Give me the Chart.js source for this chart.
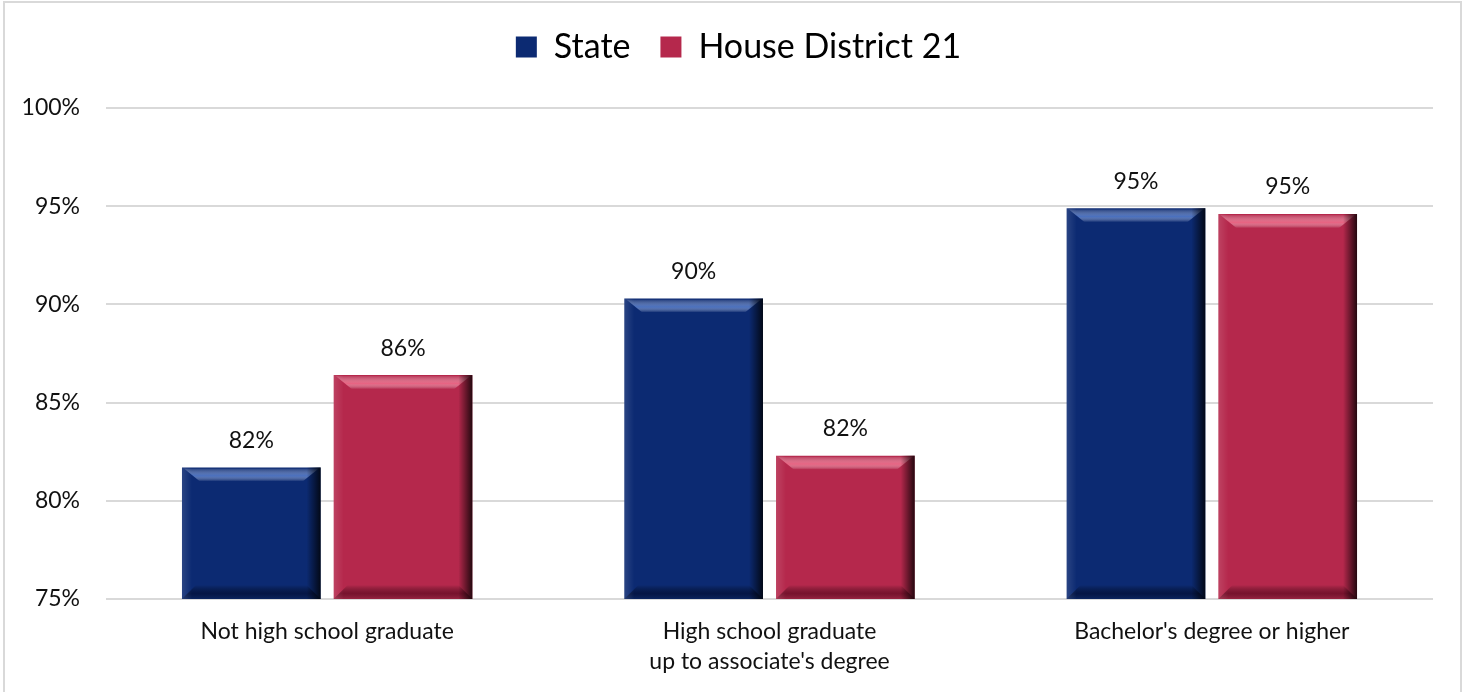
<!DOCTYPE html>
<html>
<head>
<meta charset="utf-8">
<script src="https://cdn.jsdelivr.net/npm/chart.js@4"></script>
<style>
  html, body { margin: 0; padding: 0; background: #fff; }
  canvas { display: block; }
</style>
</head>
<body>
<canvas id="eduChart" width="1469" height="692"></canvas>
<script>
// chart data
const categories = ['Not high school graduate', ['High school graduate', "up to associate's degree"], "Bachelor's degree or higher"];
const seriesNames = ['State', 'House District 21'];
const stateValues = [81.7, 90.3, 94.9];
const districtValues = [86.4, 82.3, 94.6];
const yTicks = [75, 80, 85, 90, 95, 100];

const FONT = 'Lato, "Noto Sans", sans-serif';
const navy = '#0c2a72';
const crimson = '#b5284c';

// light gray frame around the picture
const framePlugin = {
    id: 'frame',
    beforeDraw: function(chart) {
        const ctx = chart.ctx;
        ctx.save();
        ctx.fillStyle = '#fff';
        ctx.fillRect(0, 0, chart.width, chart.height);
        ctx.strokeStyle = '#d9d9d9';
        ctx.lineWidth = 2;
        ctx.beginPath();
        ctx.moveTo(4, chart.height);
        ctx.lineTo(4, 2);
        ctx.lineTo(1461, 2);
        ctx.lineTo(1461, chart.height);
        ctx.stroke();
        ctx.restore();
    }
};

// legend block as tall as the gap above the plot, centred on the whole picture
const legendPlugin = {
    id: 'legendBox',
    beforeLayout: function(chart) {
        const legend = chart.legend;
        if (legend && !legend._patched) {
            const origFit = legend.fit;
            legend.fit = function() {
                origFit.call(this);
                this.height = 108;
            };
            legend._patched = true;
        }
    },
    afterLayout: function(chart) {
        if (chart.legend) {
            chart.legend.left = 8;
            chart.legend.right = chart.width;
        }
    }
};

// bevelled look of the bars
const bevelPlugin = {
    id: 'bevel',
    afterDatasetsDraw: function(chart) {
        const ctx = chart.ctx;
        const area = chart.chartArea;
        ctx.save();
        ctx.beginPath();
        ctx.rect(area.left, area.top - 2, area.right - area.left, area.bottom - area.top + 2);
        ctx.clip();
        chart.data.datasets.forEach(function(ds, di) {
            const meta = chart.getDatasetMeta(di);
            const light = di === 0 ? 'rgba(90,130,210,0.8)' : 'rgba(240,110,140,0.85)';
            const dark = di === 0 ? 'rgba(0,8,40,0.6)' : 'rgba(70,0,20,0.55)';
            meta.data.forEach(function(bar) {
                const w = bar.width;
                const l = bar.x - w / 2;
                const r = bar.x + w / 2;
                const t = bar.y;
                const b = Math.min(bar.base, area.bottom);
                const d = 14;
                // top bevel
                let g = ctx.createLinearGradient(0, t, 0, t + d);
                g.addColorStop(0, 'rgba(255,255,255,0)');
                g.addColorStop(0.6, light);
                g.addColorStop(1, 'rgba(255,255,255,0)');
                ctx.fillStyle = g;
                ctx.beginPath();
                ctx.moveTo(l + 2, t + 1);
                ctx.lineTo(r - 2, t + 1);
                ctx.lineTo(r - d - 4, t + d);
                ctx.lineTo(l + d + 4, t + d);
                ctx.closePath();
                ctx.fill();
                // bottom bevel
                g = ctx.createLinearGradient(0, b - d, 0, b);
                g.addColorStop(0, 'rgba(0,0,0,0)');
                g.addColorStop(0.6, dark);
                g.addColorStop(1, 'rgba(0,0,0,0.15)');
                ctx.fillStyle = g;
                ctx.beginPath();
                ctx.moveTo(l, b);
                ctx.lineTo(r, b);
                ctx.lineTo(r - d, b - d);
                ctx.lineTo(l + d, b - d);
                ctx.closePath();
                ctx.fill();
                // right edge shading
                g = ctx.createLinearGradient(r - 14, 0, r, 0);
                g.addColorStop(0, 'rgba(0,0,0,0)');
                g.addColorStop(1, 'rgba(0,0,0,0.8)');
                ctx.fillStyle = g;
                ctx.fillRect(r - 14, t, 14, b - t);
                // left edge subtle light
                g = ctx.createLinearGradient(l, 0, l + 10, 0);
                g.addColorStop(0, 'rgba(255,255,255,0.12)');
                g.addColorStop(1, 'rgba(255,255,255,0)');
                ctx.fillStyle = g;
                ctx.fillRect(l, t, 10, b - t);
            });
        });
        ctx.restore();
    }
};

// value labels above the bars
const valueLabelPlugin = {
    id: 'valueLabels',
    afterDatasetsDraw: function(chart) {
        const ctx = chart.ctx;
        ctx.save();
        ctx.font = '23px ' + FONT;
        ctx.fillStyle = '#111';
        ctx.textAlign = 'center';
        ctx.textBaseline = 'middle';
        chart.data.datasets.forEach(function(ds, di) {
            const meta = chart.getDatasetMeta(di);
            meta.data.forEach(function(bar, i) {
                ctx.fillText(Math.round(ds.data[i]) + '%', bar.x, bar.y - 27);
            });
        });
        ctx.restore();
    }
};

const ctx = document.getElementById('eduChart').getContext('2d');
new Chart(ctx, {
    type: 'bar',
    data: {
        labels: categories,
        datasets: [{
            label: seriesNames[0],
            data: stateValues,
            backgroundColor: navy,
            borderWidth: 0,
            categoryPercentage: 0.686,
            barPercentage: 0.914
        }, {
            label: seriesNames[1],
            data: districtValues,
            backgroundColor: crimson,
            borderWidth: 0,
            categoryPercentage: 0.686,
            barPercentage: 0.914
        }]
    },
    options: {
        responsive: false,
        animation: false,
        layout: {
            padding: { left: 0, right: 36, top: 0, bottom: 0 }
        },
        plugins: {
            tooltip: { enabled: false },
            legend: {
                position: 'top',
                align: 'center',
                labels: {
                    font: { family: FONT, size: 34 },
                    color: '#000',
                    boxWidth: 21,
                    boxHeight: 21,
                    padding: 30
                }
            }
        },
        scales: {
            x: {
                grid: { display: false },
                border: { display: false },
                ticks: {
                    font: { family: FONT, size: 23, lineHeight: 1.3 },
                    color: '#111',
                    padding: 10,
                    maxRotation: 0
                },
                afterFit: function(scale) { scale.height = 93; }
            },
            y: {
                min: 75,
                max: 100,
                afterBuildTicks: function(scale) {
                    scale.ticks = yTicks.map(function(v) { return { value: v }; });
                },
                grid: { color: '#d9d9d9', lineWidth: 2, drawTicks: false },
                border: { display: false },
                ticks: {
                    font: { family: FONT, size: 23 },
                    color: '#111',
                    padding: 26,
                    callback: function(v) { return v + '%'; }
                },
                afterFit: function(scale) { scale.width = 106; }
            }
        }
    },
    plugins: [framePlugin, legendPlugin, bevelPlugin, valueLabelPlugin]
});
</script>
</body>
</html>
